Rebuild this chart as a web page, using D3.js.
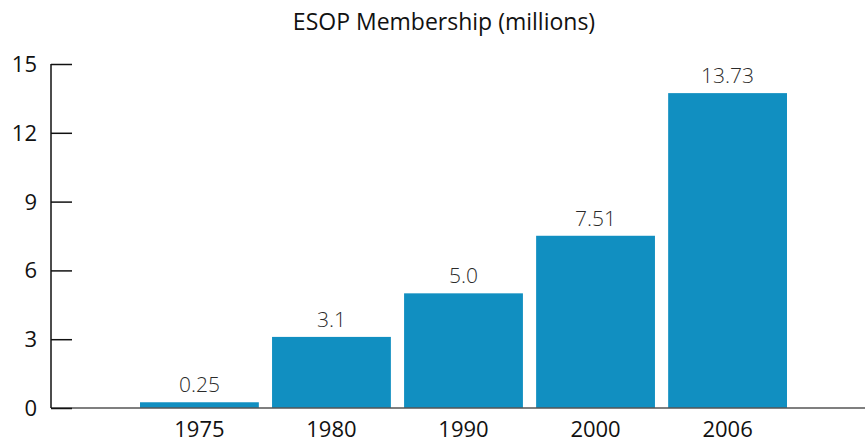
<!DOCTYPE html>
<html>
<head>
<meta charset="utf-8">
<script src="https://cdn.jsdelivr.net/npm/d3@7"></script>
<style>
  body { margin: 0; background: #fff; }
  text { font-family: "Open Sans", "Noto Sans", sans-serif; }
</style>
</head>
<body>
<script>
const years = ["1975", "1980", "1990", "2000", "2006"];
const members = [0.25, 3.1, 5.0, 7.51, 13.73];
const valueLabels = ["0.25", "3.1", "5.0", "7.51", "13.73"];
const yTicks = [0, 3, 6, 9, 12, 15];
const title = "ESOP Membership (millions)";

const data = years.map((y, i) => ({year: y, value: members[i], label: valueLabels[i]}));

const width = 865, height = 442;

const svg = d3.select("body")
  .append("svg")
  .attr("width", width)
  .attr("height", height)

const xScale = d3.scaleBand()
  .domain(years)
  .range([133.4, 793.6])
  .paddingInner(0.1)
  .paddingOuter(0.05);

const yScale = d3.scaleLinear()
  .domain([0, 15])
  .range([408, 64]);

// bars
svg.selectAll("rect.bar")
  .data(data)
  .enter()
  .append("rect")
  .attr("class", "bar")
  .attr("x", d => xScale(d.year))
  .attr("y", d => yScale(d.value))
  .attr("width", xScale.bandwidth())
  .attr("height", d => yScale(0) - yScale(d.value))
  .attr("fill", "#118fc1");

// value labels
svg.selectAll("text.val")
  .data(data)
  .enter()
  .append("text")
  .attr("class", "val")
  .attr("x", d => xScale(d.year) + xScale.bandwidth() / 2)
  .attr("y", d => yScale(d.value) - 10)
  .attr("text-anchor", "middle")
  .attr("font-size", 21)
  .attr("font-weight", 300)
  .attr("fill", "#2a2a2a")
  .text(d => d.label);

// x axis line
svg.append("line")
  .attr("x1", 51).attr("x2", 865)
  .attr("y1", yScale(0)).attr("y2", yScale(0))
  .attr("stroke", "#555")
  .attr("stroke-width", 1.5);

// x labels
svg.selectAll("text.xl")
  .data(years)
  .enter()
  .append("text")
  .attr("class", "xl")
  .attr("x", d => xScale(d) + xScale.bandwidth() / 2)
  .attr("y", 437)
  .attr("text-anchor", "middle")
  .attr("font-size", 22)
  .attr("fill", "#111")
  .text(d => d);

// y axis, ticks pointing inward
const yAxis = d3.axisRight(yScale)
  .tickValues(yTicks)
  .tickSize(21)
  .tickFormat("");

const yg = svg.append("g")
  .attr("transform", "translate(51,0)")
  .call(yAxis);
yg.select(".domain")
  .attr("d", `M0,${yScale(15)}V${yScale(0)}`)
  .attr("stroke", "#111")
  .attr("stroke-width", 1.5);
yg.selectAll(".tick line").attr("stroke", "#111").attr("stroke-width", 1.5);

svg.selectAll("text.yl")
  .data(yTicks)
  .enter()
  .append("text")
  .attr("class", "yl")
  .attr("x", 37)
  .attr("y", d => yScale(d) + 8)
  .attr("text-anchor", "end")
  .attr("font-size", 22)
  .attr("fill", "#111")
  .text(d => d);

// title
svg.append("text")
  .attr("x", 444)
  .attr("y", 30)
  .attr("text-anchor", "middle")
  .attr("font-size", 23)
  .attr("fill", "#111")
  .text(title);
</script>
</body>
</html>
